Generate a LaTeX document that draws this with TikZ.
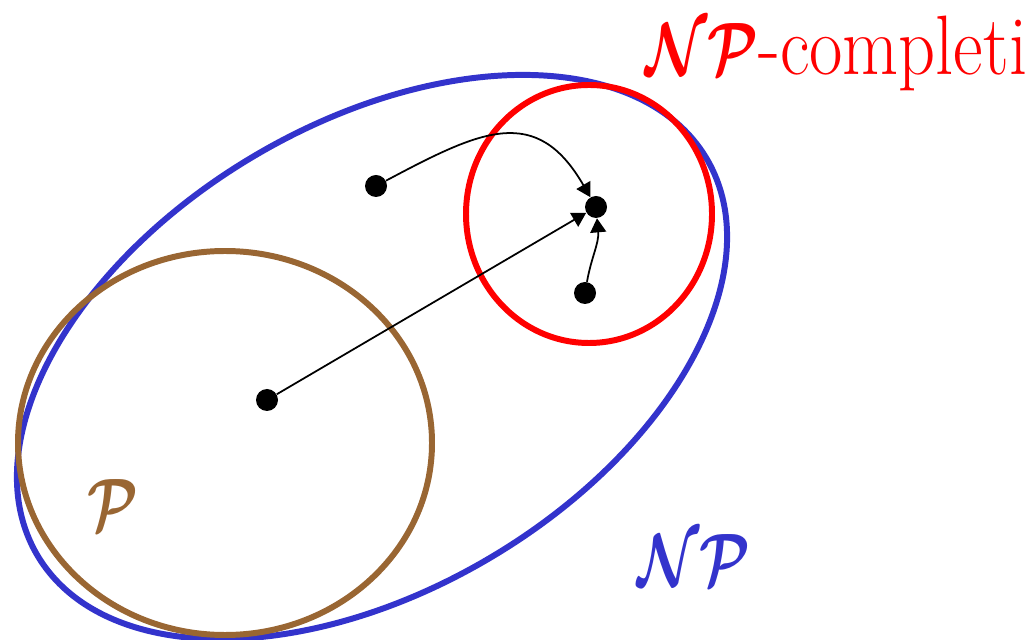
\documentclass[tikz,border=0pt]{standalone}
\usepackage{fontspec}
\usepackage{amsmath}
\usepackage{graphicx}
\usetikzlibrary{arrows.meta}
\definecolor{npblue}{RGB}{51,51,204}
\definecolor{pbrown}{RGB}{153,102,51}
\definecolor{npcred}{RGB}{255,0,0}
\newcommand{\cls}[1]{\scalebox{1.3}[1.7]{\boldmath$\mathcal{#1}$}}

\begin{document}
\begin{tikzpicture}[
  classline/.style={line width=3.4pt},
  dot/.style={circle, fill=black, inner sep=0pt, minimum size=0.44cm},
  arr/.style={-{Triangle[length=8pt,width=9pt]}, line width=1pt},
  lbl/.style={font=\rmfamily\fontsize{48}{56}\selectfont, inner sep=0pt}
]
\useasboundingbox (0,0) rectangle (20.7,-12.8);

% the classes
\draw[classline, npblue, rotate around={30.7:(7.44,-7.14)}]
  (7.44,-7.14) ellipse [x radius=7.78, y radius=4.66];
\draw[classline, pbrown] (4.5,-8.86) ellipse [x radius=4.14, y radius=3.84];
\draw[classline, npcred] (11.78,-4.28) ellipse [x radius=2.46, y radius=2.58];

% problems
\node[dot] (Pa) at (7.52,-3.72) {};
\node[dot] (Pt) at (11.92,-4.14) {};
\node[dot] (Pc) at (11.7,-5.86) {};
\node[dot] (Ps) at (5.34,-8.0) {};

% reductions
\draw[arr] (Ps) -- (Pt);
\draw[arr] (Pa) to[out=28, in=120, looseness=1.35] (Pt);
\draw[arr] (Pc) to[out=80, in=-85] (Pt);

% labels
\node[lbl, npcred, anchor=base west] (labNPC) at (12.9,-1.5)
  {\cls{NP}\scalebox{0.86}[1]{-completi}};
\node[lbl, npblue] (labNP) at (13.88,-11.2) {\cls{NP}};
\node[lbl, pbrown] (labP) at (2.26,-10.1) {\cls{P}};
\end{tikzpicture}
\end{document}
